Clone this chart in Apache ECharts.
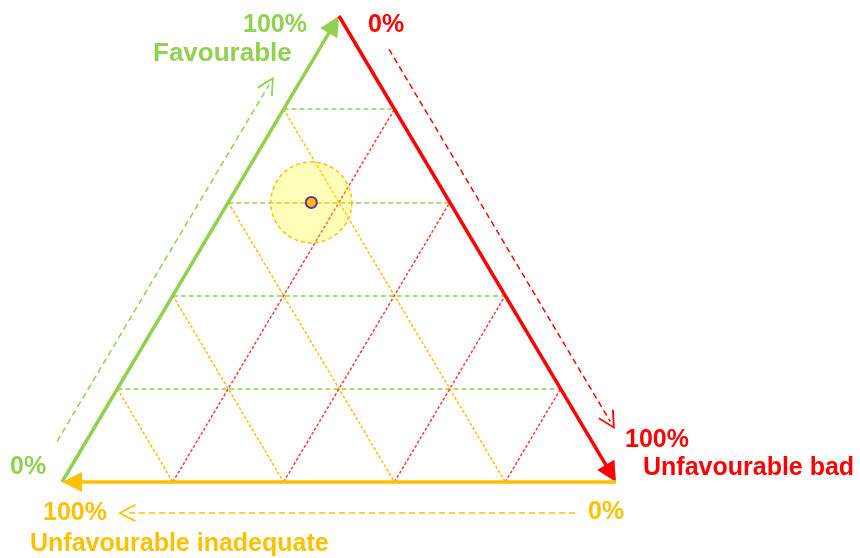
<!DOCTYPE html>
<html>
<head>
<meta charset="utf-8">
<script src="https://cdn.jsdelivr.net/npm/echarts@6/dist/echarts.min.js"></script>
<style>html,body{margin:0;padding:0;background:#fff}#tern{width:860px;height:558px}</style>
</head>
<body>
<div id="tern"></div>
<script>
// ternary shares, 0..1
var gridLevels = [0.2, 0.4, 0.6, 0.8];
var pointFavourable = [0.60];
var pointBad = [0.15];
var pointInadequate = [0.25];

var GREEN = '#92d050', RED = '#ff0000', ORANGE = '#ffc000';
var PW = 554, PH = 466; // plot box in px

// favourable at apex, bad at bottom right, inadequate at bottom left
function tern(fav, bad) { return [bad + 0.5 * fav, fav]; }
function toPx(p) { return [p[0] * PW, -p[1] * PH]; }
function fromPx(q) { return [q[0] / PW, -q[1] / PH]; }

var BL = tern(0, 0), APEX = tern(1, 0), BR = tern(0, 1);
var centroid = toPx(tern(1 / 3, 1 / 3));

// symbols sit centred on the end point, so pull the end back a bit
function pullBack(a, b, len) {
  var pa = toPx(a), pb = toPx(b);
  var dx = pb[0] - pa[0], dy = pb[1] - pa[1], L = Math.sqrt(dx * dx + dy * dy);
  return fromPx([pb[0] - dx / L * len, pb[1] - dy / L * len]);
}
// dashed guide running beside an edge, pushed outwards by off px
function guide(a, b, t0, t1, off, head) {
  var pa = toPx(a), pb = toPx(b);
  var dx = pb[0] - pa[0], dy = pb[1] - pa[1], L = Math.sqrt(dx * dx + dy * dy);
  var ux = dx / L, uy = dy / L, nx = -uy, ny = ux;
  var mx = (pa[0] + pb[0]) / 2, my = (pa[1] + pb[1]) / 2;
  if ((mx - centroid[0]) * nx + (my - centroid[1]) * ny < 0) { nx = -nx; ny = -ny; }
  var s = [pa[0] + dx * t0 + nx * off, pa[1] + dy * t0 + ny * off];
  var e = [pa[0] + dx * t1 + nx * off - ux * head, pa[1] + dy * t1 + ny * off - uy * head];
  return [fromPx(s), fromPx(e)];
}

function segs(name, list, color, width, dash, sym, size, z) {
  return {
    type: 'lines', name: name, coordinateSystem: 'cartesian2d', clip: false, silent: true, z: z,
    symbol: sym || 'none', symbolSize: size || 0,
    lineStyle: { color: color, width: width, type: dash, opacity: 1 },
    data: list.map(function (s) { return { coords: s }; })
  };
}

var chevron = 'path://M10,0 L20,17 L18.2,18 L10,3.6 L1.8,18 L0,17 Z';
var greenGrid = gridLevels.map(function (f) { return [tern(f, 0), tern(f, 1 - f)]; });
var orangeGrid = gridLevels.map(function (c) { return [tern(1 - c, 0), tern(0, 1 - c)]; });
var redGrid = gridLevels.map(function (b) { return [tern(0, b), tern(1 - b, b)]; });
var points = pointFavourable.map(function (f, i) { return tern(f, pointBad[i]); });

var font = 'bold 25px "Liberation Sans", Arial, sans-serif';
var fontWide = 'bold 26px "Liberation Sans", Arial, sans-serif';
function txt(t, x, y, color, align, f) {
  return { type: 'text', x: x, y: y, silent: true,
    style: { text: t, fill: color, font: f || font, align: align || 'left', verticalAlign: 'middle' } };
}

var chart = echarts.init(document.getElementById('tern'));
chart.setOption({
  animation: false,
  grid: { left: 62, right: 244, top: 16, bottom: 76 },
  xAxis: { type: 'value', min: 0, max: 1, show: false },
  yAxis: { type: 'value', min: 0, max: 1, show: false },
  series: [
    segs('fav grid', greenGrid, GREEN, 1.5, [5, 3], null, null, 2),
    segs('inad grid', orangeGrid, ORANGE, 1.5, [3, 2], null, null, 2),
    segs('bad grid', redGrid, '#ff3b3b', 1.5, [3, 2], null, null, 2),
    segs('fav edge', [[BL, pullBack(BL, APEX, 10)]], GREEN, 3.5, 'solid', ['none', 'triangle'], [17, 20], 4),
    segs('bad edge', [[APEX, pullBack(APEX, BR, 10)]], RED, 3.5, 'solid', ['none', 'triangle'], [17, 20], 4),
    segs('inad edge', [[BR, pullBack(BR, BL, 10)]], ORANGE, 3.5, 'solid', ['none', 'triangle'], [17, 20], 4),
    segs('fav guide', [guide(BL, APEX, 0.06, 0.842, 25, 9)], GREEN, 1.5, [6, 4], ['none', chevron], [17, 18], 3),
    segs('bad guide', [guide(APEX, BR, 0.10, 0.915, 26, 9)], RED, 1.5, [6, 4], ['none', chevron], [17, 18], 3),
    segs('inad guide', [guide(BR, BL, 0.074, 0.899, 31, 9)], ORANGE, 1.5, [6, 4], ['none', chevron], [17, 18], 3),
    {
      type: 'scatter', silent: true, clip: false, z: 5, symbolSize: 81, data: points,
      itemStyle: { color: 'rgba(255,255,0,0.27)', borderColor: ORANGE, borderWidth: 1.5, borderType: [4, 3], opacity: 1 }
    },
    {
      type: 'scatter', silent: true, clip: false, z: 6, symbolSize: 11, data: points,
      itemStyle: { color: ORANGE, borderColor: '#7030a0', borderWidth: 2, opacity: 1 }
    }
  ],
  graphic: [
    txt('100%', 307, 25, GREEN, 'right'),
    txt('Favourable', 153, 54, GREEN, 'left', fontWide),
    txt('0%', 368, 25, RED),
    txt('100%', 625, 440, RED),
    txt('Unfavourable bad', 643, 468, RED),
    txt('0%', 10, 467, GREEN),
    txt('100%', 43, 513, ORANGE),
    txt('0%', 588, 512, ORANGE),
    txt('Unfavourable inadequate', 30, 544, ORANGE)
  ]
});
</script>
</body>
</html>
